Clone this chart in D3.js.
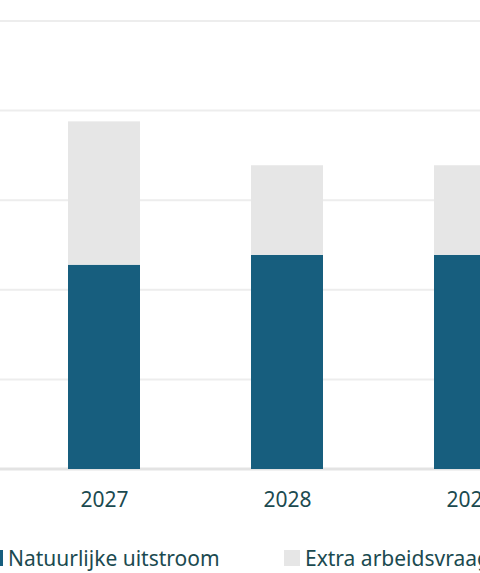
<!DOCTYPE html><html><head><meta charset="utf-8"><script src="https://cdn.jsdelivr.net/npm/d3@7"></script>
<style>body{margin:0;background:#fff}svg{display:block}</style></head><body><svg id="c" width="480" height="573"></svg>
<script>
const categories=["2027","2028","2029"];
const natuurlijke=[2.28,2.39,2.39];
const extra=[1.60,1.00,1.00];
const yTicks=[0,1,2,3,4,5];
const svg=d3.select("#c");
const x=d3.scalePoint().domain(categories).range([104,470]);
const y=d3.scaleLinear().domain([0,5]).range([469,21]);
const bw=72, txt="#1b4a50", ff="'Noto Sans', 'Open Sans', sans-serif";
svg.append("g").selectAll("line").data(yTicks).join("line")
 .attr("x1",0).attr("x2",480).attr("y1",d=>y(d)).attr("y2",d=>y(d))
 .attr("stroke",d=>d===0?"#e3e3e3":"#ededed").attr("stroke-width",d=>d===0?3:2);
svg.append("g").selectAll("rect").data(categories).join("rect")
 .attr("x",d=>x(d)-bw/2).attr("width",bw)
 .attr("y",(d,i)=>y(natuurlijke[i])).attr("height",(d,i)=>y(0)-y(natuurlijke[i])).attr("fill","#175e7e");
svg.append("g").selectAll("rect").data(categories).join("rect")
 .attr("x",d=>x(d)-bw/2).attr("width",bw)
 .attr("y",(d,i)=>y(natuurlijke[i]+extra[i])).attr("height",(d,i)=>y(natuurlijke[i])-y(natuurlijke[i]+extra[i])).attr("fill","#e6e6e6");
const ax=svg.append("g").attr("transform","translate(0,469)").call(d3.axisBottom(x).tickSize(0).tickPadding(23));
ax.select(".domain").remove();
ax.selectAll("text").attr("fill",txt).attr("font-family",ff).attr("font-size",21);
const legend=[{n:"Natuurlijke uitstroom",c:"#175e7e",x:-13},{n:"Extra arbeidsvraag",c:"#e6e6e6",x:284}];
const lg=svg.append("g").selectAll("g").data(legend).join("g").attr("transform",d=>`translate(${d.x},550)`);
lg.append("rect").attr("width",16).attr("height",16).attr("fill",d=>d.c);
lg.append("text").attr("x",21).attr("y",16).text(d=>d.n).attr("fill",txt).attr("font-family",ff).attr("font-size",21);
</script></body></html>
